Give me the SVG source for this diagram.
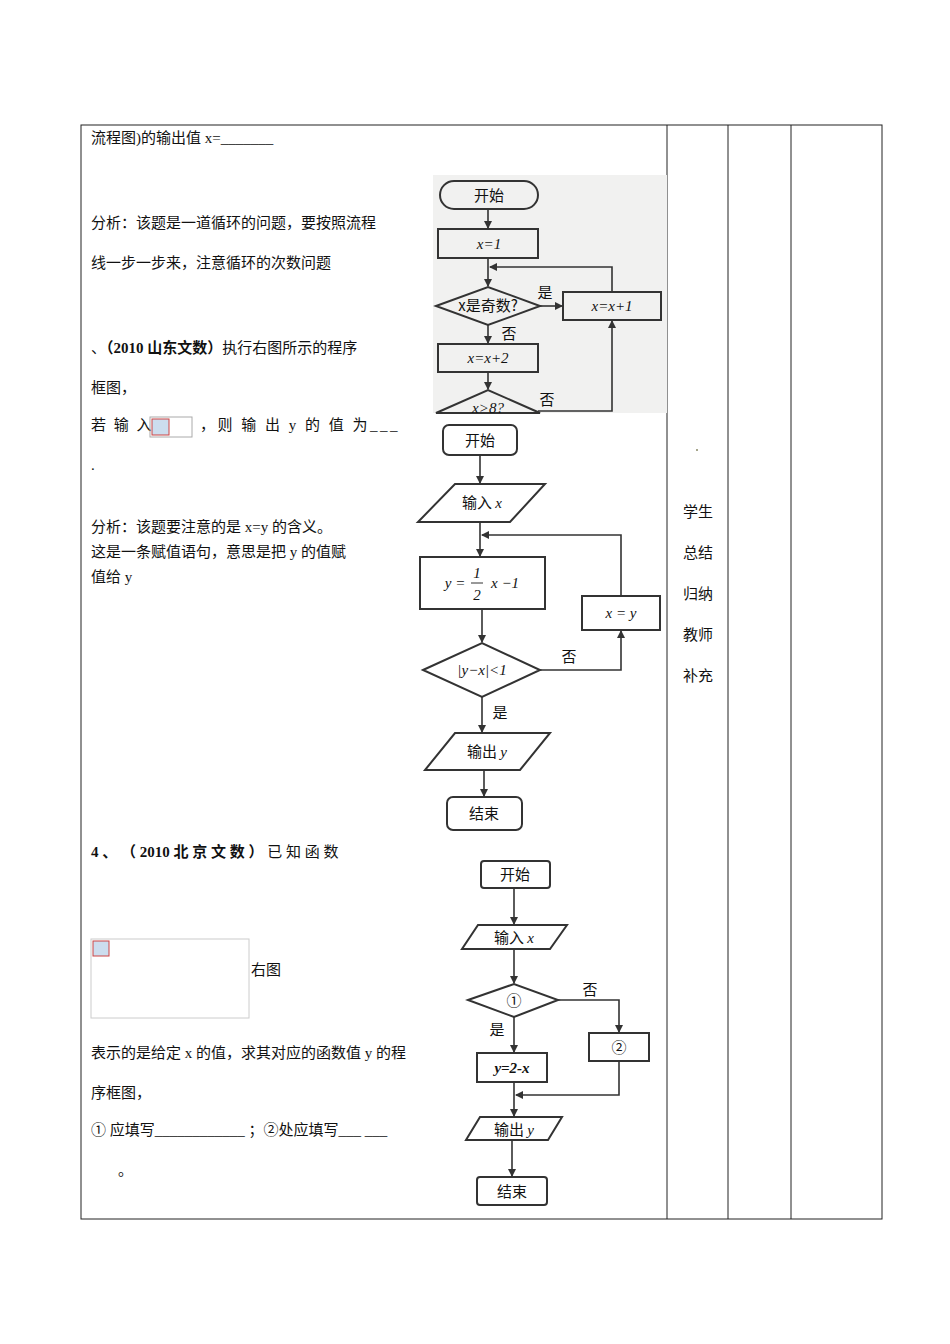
<svg xmlns="http://www.w3.org/2000/svg" width="950" height="1344" viewBox="0 0 950 1344">
<style>
text{font-family:"Liberation Serif","Noto Sans CJK SC",serif;font-size:15px;fill:#111}
.b{font-weight:bold}
.fc{fill:none;stroke:#333;stroke-width:2}
.ln{fill:none;stroke:#333;stroke-width:1.6}
.n{font-family:"Noto Sans CJK SC",sans-serif;font-size:15px;text-anchor:middle}
.m{font-family:"Liberation Serif",serif;font-style:italic;font-size:15px;text-anchor:middle}
.tb{fill:none;stroke:#222;stroke-width:1}
</style>
<defs>
<marker id="a" markerWidth="8" markerHeight="8" refX="7" refY="4" orient="auto" markerUnits="userSpaceOnUse"><path d="M0,0 L8,4 L0,8 Z" fill="#333"/></marker>
</defs>
<rect width="950" height="1344" fill="#fff"/>
<g id="table" class="tb">
<rect x="81" y="125" width="801" height="1094"/>
<line x1="667" y1="125" x2="667" y2="1219"/>
<line x1="728" y1="125" x2="728" y2="1219"/>
<line x1="791" y1="125" x2="791" y2="1219"/>
</g>
<g id="lefttext">
<text x="91" y="143">流程图)的输出值 x=_______</text>
<text x="91" y="228">分析：该题是一道循环的问题，要按照流程</text>
<text x="91" y="268">线一步一步来，注意循环的次数问题</text>
<text x="91" y="353"><tspan>、</tspan><tspan class="b">（2010 山东文数）</tspan><tspan>执行右图所示的程序</tspan></text>
<text x="91" y="393">框图，</text>
<text x="91" y="430" letter-spacing="2">若 输 入</text>
<rect x="150" y="417" width="42" height="20" fill="none" stroke="#aaa"/>
<rect x="152" y="419" width="17" height="16" fill="#cde" stroke="#c44"/>
<text x="200" y="430" letter-spacing="2.5">，则 输 出 y 的 值 为___</text>
<text x="91" y="470">.</text>
<text x="91" y="532">分析：该题要注意的是 x=y 的含义。</text>
<text x="91" y="557">这是一条赋值语句，意思是把 y 的值赋</text>
<text x="91" y="582">值给 y</text>
<text x="91" y="857"><tspan class="b">4 、 （ 2010 北 京 文 数 ）</tspan><tspan> 已 知 函 数</tspan></text>
<rect x="91" y="939" width="158" height="79" fill="none" stroke="#ccc"/>
<rect x="93" y="941" width="16" height="15" fill="#cde" stroke="#c44"/>
<text x="251" y="975">右图</text>
<text x="91" y="1058">表示的是给定 x 的值，求其对应的函数值 y 的程</text>
<text x="91" y="1098">序框图，</text>
<text x="91" y="1135">①  应填写____________ ；②处应填写___ ___</text>
<text x="118" y="1175">。</text>
</g>
<g id="rightcol" font-size="15">
<text x="698" y="517" text-anchor="middle">学生</text>
<text x="698" y="558" text-anchor="middle">总结</text>
<text x="698" y="599" text-anchor="middle">归纳</text>
<text x="698" y="640" text-anchor="middle">教师</text>
<text x="698" y="681" text-anchor="middle">补充</text>
<circle cx="697" cy="450" r="1" fill="#886"/>
</g>
<rect x="433" y="175" width="234" height="238" fill="#f1f1f0"/>
<g id="chart1">
<g id="c1-start"><rect class="fc" x="440" y="181" width="98" height="28" rx="14"/><text class="n" x="489" y="201">开始</text></g>
<g id="c1-x1"><rect class="fc" x="438" y="229" width="100" height="29" fill="#fff"/><text class="m" x="489" y="249">x=1</text></g>
<g id="c1-d1"><polygon class="fc" points="436,306 488,287 540,306 488,325"/><text class="n" x="488" y="311" font-size="13">x是奇数?</text></g>
<g id="c1-inc1"><rect class="fc" x="563" y="292" width="98" height="28"/><text class="m" x="612" y="311">x=x+1</text></g>
<g id="c1-inc2"><rect class="fc" x="438" y="344" width="100" height="28"/><text class="m" x="488" y="363">x=x+2</text></g>
<g id="c1-d2"><polygon class="fc" points="436,413 488,390 540,413"/><text class="m" x="488" y="413">x&gt;8?</text></g>
</g>
<g id="c2" >
<g id="c2-start"><rect class="fc" x="443" y="425" width="74" height="30" rx="6"/><text class="n" x="480" y="446">开始</text></g>
<g id="c2-in"><polygon class="fc" points="455,484 545,484 510,522 418,522"/><text class="n" x="482" y="508">输入 <tspan font-style="italic" font-family="Liberation Serif">x</tspan></text></g>
<g id="c2-calc"><rect class="fc" x="420" y="557" width="125" height="52"/><text class="m" x="455" y="588">y =</text><text class="m" x="477" y="578" font-style="normal">1</text><line x1="471" y1="583" x2="483" y2="583" stroke="#333"/><text class="m" x="477" y="600" font-style="normal">2</text><text class="m" x="505" y="588">x −1</text></g>
<g id="c2-assign"><rect class="fc" x="582" y="596" width="78" height="34"/><text class="m" x="621" y="618">x = y</text></g>
<g id="c2-dec"><polygon class="fc" points="423,670 482,643 540,670 482,697"/><text class="m" x="482" y="675">|y−x|&lt;1</text></g>
<g id="c2-out"><polygon class="fc" points="455,733 550,733 520,770 425,770"/><text class="n" x="487" y="757">输出 <tspan font-style="italic" font-family="Liberation Serif">y</tspan></text></g>
<g id="c2-end"><rect class="fc" x="447" y="797" width="75" height="33" rx="6"/><text class="n" x="484" y="819">结束</text></g>
</g>
<g id="c3">
<g id="c3-start"><rect class="fc" x="481" y="861" width="69" height="27" rx="3"/><text class="n" x="515" y="880">开始</text></g>
<g id="c3-in"><polygon class="fc" points="478,925 567,925 550,949 462,949"/><text class="n" x="514" y="943">输入 <tspan font-style="italic" font-family="Liberation Serif">x</tspan></text></g>
<g id="c3-dec"><polygon class="fc" points="468,1000 514,984 558,1000 514,1017"/><text class="n" x="514" y="1006">①</text></g>
<g id="c3-box2"><rect class="fc" x="589" y="1033" width="60" height="28"/><text class="n" x="619" y="1053">②</text></g>
<g id="c3-calc"><rect class="fc" x="477" y="1053" width="70" height="29"/><text class="m" x="512" y="1073" font-weight="bold">y=2-x</text></g>
<g id="c3-out"><polygon class="fc" points="480,1117 562,1117 548,1140 466,1140"/><text class="n" x="514" y="1135">输出 <tspan font-style="italic" font-family="Liberation Serif">y</tspan></text></g>
<g id="c3-end"><rect class="fc" x="477" y="1177" width="70" height="28" rx="3"/><text class="n" x="512" y="1197">结束</text></g>
</g>
<g id="connectors" class="ln">
<line x1="488" y1="209" x2="488" y2="228" marker-end="url(#a)"/>
<line x1="488" y1="258" x2="488" y2="286" marker-end="url(#a)"/>
<polyline points="612,292 612,267 490,267" marker-end="url(#a)"/>
<line x1="540" y1="306" x2="562" y2="306" marker-end="url(#a)"/>
<line x1="488" y1="325" x2="488" y2="343" marker-end="url(#a)"/>
<line x1="488" y1="372" x2="488" y2="389" marker-end="url(#a)"/>
<polyline points="538,411 612,411 612,321" marker-end="url(#a)"/>
<line x1="480" y1="455" x2="480" y2="483" marker-end="url(#a)"/>
<line x1="480" y1="522" x2="480" y2="556" marker-end="url(#a)"/>
<polyline points="621,596 621,535 482,535" marker-end="url(#a)"/>
<line x1="482" y1="609" x2="482" y2="642" marker-end="url(#a)"/>
<polyline points="540,670 621,670 621,631" marker-end="url(#a)"/>
<line x1="482" y1="697" x2="482" y2="732" marker-end="url(#a)"/>
<line x1="484" y1="770" x2="484" y2="796" marker-end="url(#a)"/>
<line x1="514" y1="888" x2="514" y2="924" marker-end="url(#a)"/>
<line x1="514" y1="949" x2="514" y2="983" marker-end="url(#a)"/>
<line x1="514" y1="1017" x2="514" y2="1052" marker-end="url(#a)"/>
<polyline points="558,1000 619,1000 619,1032" marker-end="url(#a)"/>
<line x1="514" y1="1082" x2="514" y2="1116" marker-end="url(#a)"/>
<polyline points="619,1061 619,1095 516,1095" marker-end="url(#a)"/>
<line x1="512" y1="1140" x2="512" y2="1176" marker-end="url(#a)"/>
</g>
<g id="labels">
<text class="n" x="545" y="298">是</text>
<text class="n" x="509" y="339">否</text>
<text class="n" x="547" y="405">否</text>
<text class="n" x="569" y="662">否</text>
<text class="n" x="500" y="718">是</text>
<text class="n" x="590" y="995">否</text>
<text class="n" x="497" y="1035">是</text>
</g>
</svg>
